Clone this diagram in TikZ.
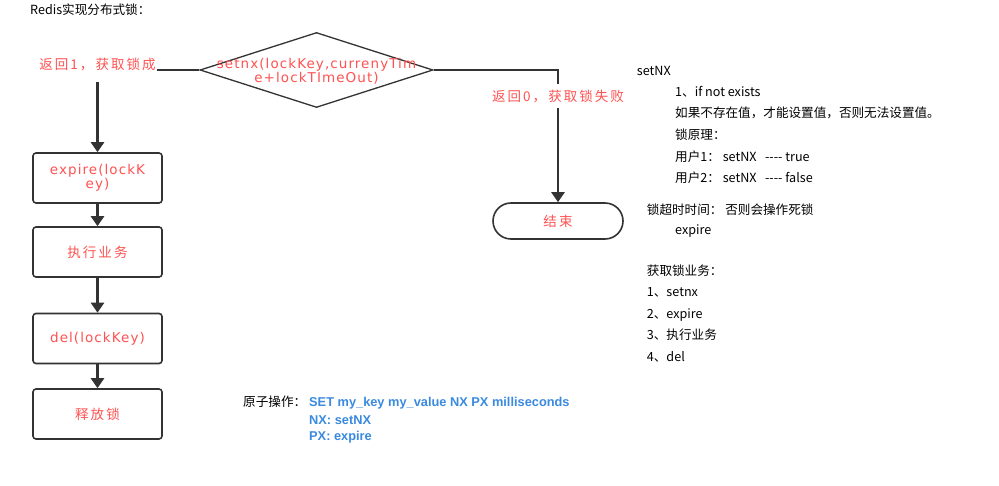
\documentclass[tikz,border=0pt]{standalone}
\usepackage{fontspec}
\setmainfont{Noto Sans CJK SC}
\newfontfamily\redcjk[LetterSpace=15]{Noto Sans CJK SC}
\newfontfamily\redlat[LetterSpace=8]{DejaVu Sans}
\newfontfamily\bluefont{Liberation Sans}
\usetikzlibrary{shapes.geometric,arrows.meta}
\definecolor{flowred}{HTML}{FF5252}
\definecolor{noteblue}{HTML}{3A8AE0}
\definecolor{edgegray}{HTML}{333333}
\begin{document}
\begin{tikzpicture}[x=1pt,y=-1pt,
  stepbox/.style={draw=edgegray,line width=1.6pt,rounded corners=3pt,minimum width=129pt,
    minimum height=50pt,inner sep=0pt,align=center,text=flowred},
  flow/.style={draw=edgegray,line width=2.4pt,-{Triangle[length=10pt,width=13pt]}},
  branch/.style={fill=white,inner xsep=1pt,inner ysep=0pt,text=flowred,
    font=\redcjk\fontsize{13.5}{15}\selectfont},
  redcn/.style={font=\redcjk\fontsize{13.5}{15}\selectfont},
  redla/.style={font=\redlat\fontsize{13.5}{12.5}\selectfont},
  note/.style={anchor=base west,inner sep=0pt,font=\fontsize{12.6}{15}\selectfont},
  atom/.style={anchor=base west,inner sep=0pt,text=noteblue,font=\bluefont\bfseries\fontsize{12.8}{14}\selectfont}]
\useasboundingbox[fill=white] (0,0) rectangle (999,486);
% title
\node[note] (title) at (30,15) {Redis实现分布式锁：};
% flow chart
\node[diamond,draw=edgegray,line width=1.3pt,minimum width=233pt,minimum height=75pt,inner sep=0pt]
  (dec) at (316.5,70) {};
\node[redla,text=flowred,align=center,inner sep=0pt] (dectxt) at (316.5,71.5)
  {setnx(lockKey,currenyTim\\e+lockTImeOut)};
\node[stepbox,redla] (exp) at (97.5,178) {expire(lockK\\ey)};
\node[stepbox,redcn] (biz) at (97.5,252) {执行业务};
\node[stepbox,redla] (del) at (97.5,338.5) {del(lockKey)};
\node[stepbox,redcn] (rel) at (97.5,414) {释放锁};
\node[draw=edgegray,line width=1.6pt,rounded corners=18pt,minimum width=130pt,minimum height=36pt,
  text=flowred,redcn] (fin) at (558,221) {结束};
\draw[flow] (dec.west) -| node[branch,pos=0.5,yshift=5pt,minimum height=34pt]{返回1，获取锁成} (exp.north);
\draw[flow] (dec.east) -| node[branch,pos=0.6,minimum height=24pt]{返回0，获取锁失败} (fin.north);
\draw[flow] (exp) -- (biz);
\draw[flow] (biz) -- (del);
\draw[flow] (del) -- (rel);
% notes
\node[note] (nx) at (636.7,76) {setNX};
\node[note] (nx1) at (675,97) {1、if not exists};
\node[note] (nx2) at (675,118) {如果不存在值，才能设置值，否则无法设置值。};
\node[note] (nx3) at (675,140) {锁原理：};
\node[note] (nx4) at (675,161.5) {用户1： setNX \ \ {-}{-}{-}{-} true};
\node[note] (nx5) at (675,183) {用户2： setNX \ \ {-}{-}{-}{-} false};
\node[note] (tmo) at (646.7,215) {锁超时时间： 否则会操作死锁};
\node[note] (tmo1) at (675,235) {expire};
\node[note] (get) at (646.7,276) {获取锁业务：};
\node[note] (get1) at (646.7,297) {1、setnx};
\node[note] (get2) at (646.7,318.5) {2、expire};
\node[note] (get3) at (646.7,340) {3、执行业务};
\node[note] (get4) at (646.7,361.5) {4、del};
% atomic operation
\node[note] (atm) at (243,406.5) {原子操作：};
\node[atom] (atm1) at (309,406.5) {SET my\_key my\_value NX PX milliseconds};
\node[atom] (atm2) at (309,424) {NX: setNX};
\node[atom] (atm3) at (309,440) {PX: expire};
\end{tikzpicture}
\end{document}
